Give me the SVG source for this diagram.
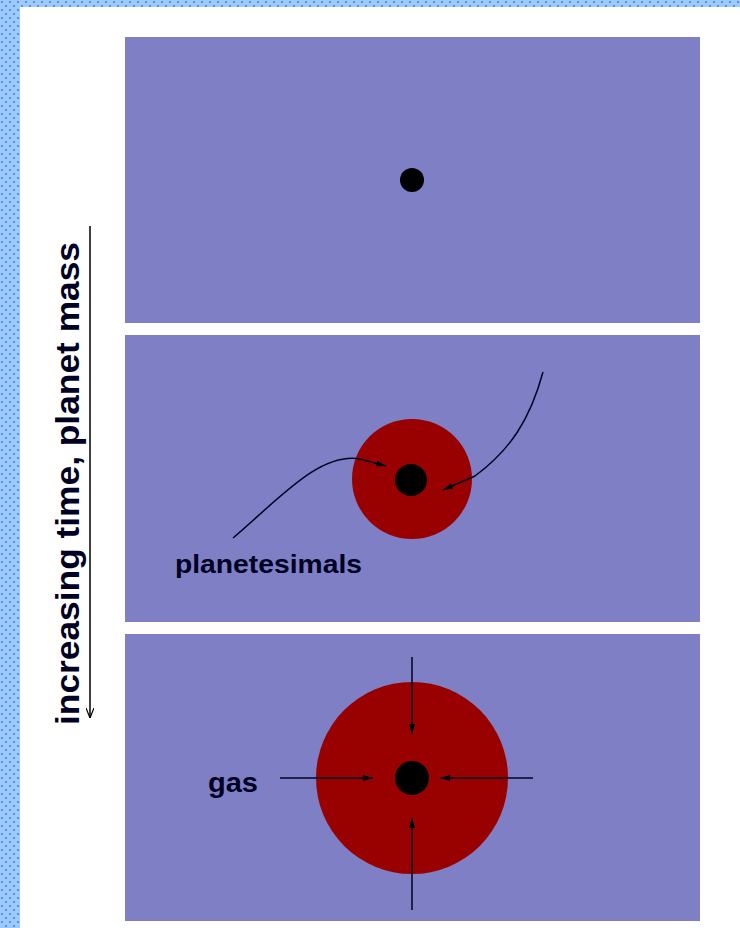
<svg xmlns="http://www.w3.org/2000/svg" width="740" height="928" viewBox="0 0 740 928">
<style>
.panel{fill:#7f7fc6}
.shell{fill:#990000}
.core{fill:#000000}
.flow{fill:none;stroke:#000022;stroke-width:1.5}
.lbl{font-family:"Liberation Sans",Arial,sans-serif;font-weight:bold;fill:#000022}
</style>
<defs>
<pattern id="dots" width="8" height="8" patternUnits="userSpaceOnUse">
<rect width="8" height="8" fill="#99ccff"/>
<circle cx="2" cy="2" r="1" fill="#6666ee"/>
<circle cx="6" cy="6" r="1" fill="#6666ee"/>
</pattern>
<marker id="ah" viewBox="0 0 10 6" refX="10" refY="3" markerWidth="10" markerHeight="6" markerUnits="userSpaceOnUse" orient="auto">
<path d="M0,0 L10,3 L0,6 Z" fill="#000011"/>
</marker>
<marker id="ov" viewBox="0 0 10 8" refX="10" refY="4" markerWidth="10" markerHeight="8" markerUnits="userSpaceOnUse" orient="auto">
<path d="M0,0 L10,4 L0,8" fill="none" stroke="#000000" stroke-width="1.2"/>
</marker>
</defs>
<rect width="740" height="928" fill="#ffffff"/>
<g id="border">
<rect x="0" y="0" width="740" height="7" fill="url(#dots)"/>
<rect x="0" y="0" width="20" height="928" fill="url(#dots)"/>
</g>
<g id="panel1">
<rect class="panel" x="125" y="37" width="575" height="286"/>
<circle class="core" cx="412" cy="180" r="12"/>
</g>
<g id="panel2">
<rect class="panel" x="125" y="335" width="575" height="287"/>
<circle class="shell" cx="412" cy="479" r="60"/>
<circle class="core" cx="411" cy="480" r="16"/>
<text class="lbl" x="175" y="573" font-size="25" textLength="187" lengthAdjust="spacingAndGlyphs">planetesimals</text>
</g>
<g id="panel3">
<rect class="panel" x="125" y="634" width="575" height="287"/>
<circle class="shell" cx="412" cy="778" r="96"/>
<circle class="core" cx="412" cy="778" r="17"/>
<text class="lbl" x="208" y="792" font-size="28" textLength="50" lengthAdjust="spacingAndGlyphs">gas</text>
</g>
<g id="axis-label">
<text class="lbl" transform="translate(79,725) rotate(-90)" x="0" y="0" font-size="34" fill="#000000" textLength="483" lengthAdjust="spacingAndGlyphs">increasing time, planet mass</text>
</g>
<g id="connectors">
<line x1="90" y1="226" x2="90" y2="718" stroke="#000000" stroke-width="1.5" marker-end="url(#ov)"/>
<path class="flow" d="M233,538 C280,498 320,452 360,459 L386,466" marker-end="url(#ah)"/>
<path class="flow" d="M543,372 C530,420 510,450 475,476 L443,490" marker-end="url(#ah)"/>
<line class="flow" x1="412" y1="657" x2="412" y2="734" marker-end="url(#ah)"/>
<line class="flow" x1="412" y1="910" x2="412" y2="818" marker-end="url(#ah)"/>
<line class="flow" x1="280" y1="778" x2="373" y2="778" marker-end="url(#ah)"/>
<line class="flow" x1="533" y1="778" x2="440" y2="778" marker-end="url(#ah)"/>
</g>
</svg>
